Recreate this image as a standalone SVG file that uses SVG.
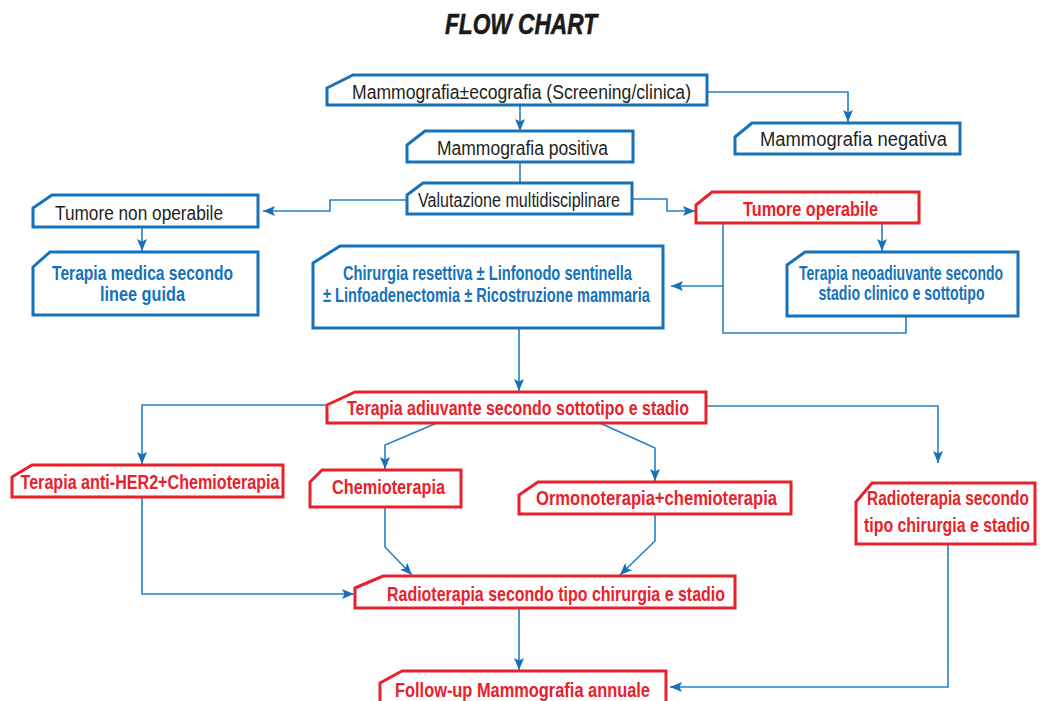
<svg xmlns="http://www.w3.org/2000/svg" width="1042" height="701" viewBox="0 0 1042 701">
<defs>
<marker id="ah" markerUnits="userSpaceOnUse" markerWidth="13" markerHeight="11" refX="12" refY="5.5" orient="auto">
<path d="M0,0.5 L12,5.5 L0,10.5 L2.5,5.5 Z" fill="#1870b8"/>
</marker>
<style>
.bb{fill:#fff;stroke:#1672b9;stroke-width:3}
.rb{fill:#fff;stroke:#e8212b;stroke-width:3}
.c{fill:none;stroke:#2382c6;stroke-width:1.6}
.ca{fill:none;stroke:#2382c6;stroke-width:1.6;marker-end:url(#ah)}
.t{font-family:"Liberation Sans",Arial,sans-serif;font-size:20px;fill:#231f20;text-anchor:middle}
.tb{font-family:"Liberation Sans",Arial,sans-serif;font-size:21px;font-weight:bold;fill:#1672b9;text-anchor:middle}
.tr{font-family:"Liberation Sans",Arial,sans-serif;font-size:21px;font-weight:bold;fill:#e8212b;text-anchor:middle}
</style>
</defs>
<rect width="1042" height="701" fill="#fff"/>
<text x="521" y="34" textLength="152" lengthAdjust="spacingAndGlyphs" style="font-family:'Liberation Sans',Arial,sans-serif;font-size:29px;font-weight:900;font-style:italic;fill:#1a1a1a;text-anchor:middle;stroke:#1a1a1a;stroke-width:0.6">FLOW CHART</text>

<g id="connectors">
<path class="ca" d="M520,105 V131"/>
<path class="ca" d="M707,92 H848 V122"/>
<path class="c" d="M520,162 V183"/>
<path class="ca" d="M407,200 H330 V211 H263"/>
<path class="ca" d="M632,199 H667 V211 H695"/>
<path class="ca" d="M142,227 V251"/>
<path class="ca" d="M882,223 V251"/>
<path class="c" d="M723,223 V333 H906 V316"/>
<path class="ca" d="M723,286 H671"/>
<path class="ca" d="M519,328 V391"/>
<path class="ca" d="M327,405 H142 V464"/>
<path class="ca" d="M437,423 L385,445 V469"/>
<path class="ca" d="M600,423 L655,448 V481"/>
<path class="ca" d="M706,406 H938 V463"/>
<path class="ca" d="M142,497 V594 H354"/>
<path class="ca" d="M385,507 V547 L412,575"/>
<path class="ca" d="M655,514 V541 L620,575"/>
<path class="ca" d="M519,608 V670"/>
<path class="ca" d="M948,544 V687 H670"/>
</g>

<g id="n-mammo-eco">
<path class="bb" d="M327,88 L353,75 H707 V105 H327 Z"/>
<text class="t" x="521.5" y="99" textLength="339" lengthAdjust="spacingAndGlyphs">Mammografia±ecografia (Screening/clinica)</text>
</g>
<g id="n-mammo-pos">
<path class="bb" d="M407,145 L425,131 H633 V162 H407 Z"/>
<text class="t" x="522.5" y="155" textLength="171" lengthAdjust="spacingAndGlyphs">Mammografia positiva</text>
</g>
<g id="n-mammo-neg">
<path class="bb" d="M735,137 L752,123 H960 V154 H735 Z"/>
<text class="t" x="853.5" y="146" textLength="187" lengthAdjust="spacingAndGlyphs">Mammografia negativa</text>
</g>
<g id="n-valutazione">
<path class="bb" d="M407,195 L423,183 H632 V214 H407 Z"/>
<text class="t" x="519" y="207" font-size="18" textLength="202" lengthAdjust="spacingAndGlyphs">Valutazione multidisciplinare</text>
</g>
<g id="n-non-operabile">
<path class="bb" d="M33,208 L52,195 H258 V227 H33 Z"/>
<text class="t" x="139" y="220" textLength="168" lengthAdjust="spacingAndGlyphs">Tumore non operabile</text>
</g>
<g id="n-terapia-medica">
<path class="bb" d="M33,267 L50,252 H258 V315 H33 Z"/>
<text class="tb" x="142.5" y="280" font-size="20" textLength="181" lengthAdjust="spacingAndGlyphs">Terapia medica secondo</text>
<text class="tb" x="142.5" y="301" font-size="20" textLength="85" lengthAdjust="spacingAndGlyphs">linee guida</text>
</g>
<g id="n-operabile">
<path class="rb" d="M696,205 L712,192 H919 V223 H696 Z"/>
<text class="tr" x="810.5" y="216" textLength="135" lengthAdjust="spacingAndGlyphs">Tumore operabile</text>
</g>
<g id="n-neoadiuvante">
<path class="bb" d="M787,265 L805,252 H1018 V316 H787 Z"/>
<text class="tb" x="901" y="280" font-size="18" textLength="204" lengthAdjust="spacingAndGlyphs">Terapia neoadiuvante secondo</text>
<text class="tb" x="901.5" y="300" font-size="18" textLength="166" lengthAdjust="spacingAndGlyphs">stadio clinico e sottotipo</text>
</g>
<g id="n-chirurgia">
<path class="bb" d="M313,263 L340,246 H663 V328 H313 Z"/>
<text class="tb" x="487.5" y="280" font-size="19" textLength="289" lengthAdjust="spacingAndGlyphs">Chirurgia resettiva ± Linfonodo sentinella</text>
<text class="tb" x="486.5" y="302" font-size="19" textLength="327" lengthAdjust="spacingAndGlyphs">± Linfoadenectomia ± Ricostruzione mammaria</text>
</g>
<g id="n-adiuvante">
<path class="rb" d="M327,405 L355,392 H706 V423 H327 Z"/>
<text class="tr" x="518" y="415" font-size="20" textLength="342" lengthAdjust="spacingAndGlyphs">Terapia adiuvante secondo sottotipo e stadio</text>
</g>
<g id="n-her2">
<path class="rb" d="M12,477 L32,465 H283 V497 H12 Z"/>
<text class="tr" x="150" y="489" font-size="20" textLength="259" lengthAdjust="spacingAndGlyphs">Terapia anti-HER2+Chemioterapia</text>
</g>
<g id="n-chemio">
<path class="rb" d="M310,482 L322,470 H461 V507 H310 Z"/>
<text class="tr" x="388.5" y="494" font-size="20" textLength="113" lengthAdjust="spacingAndGlyphs">Chemioterapia</text>
</g>
<g id="n-ormono">
<path class="rb" d="M519,495 L538,482 H791 V514 H519 Z"/>
<text class="tr" x="656.5" y="505" font-size="20" textLength="241" lengthAdjust="spacingAndGlyphs">Ormonoterapia+chemioterapia</text>
</g>
<g id="n-radio-dx">
<path class="rb" d="M856,502 L872,483 H1035 V544 H856 Z"/>
<text class="tr" x="948" y="505" font-size="20" textLength="162" lengthAdjust="spacingAndGlyphs">Radioterapia secondo</text>
<text class="tr" x="947" y="532" font-size="20" textLength="166" lengthAdjust="spacingAndGlyphs">tipo chirurgia e stadio</text>
</g>
<g id="n-radio">
<path class="rb" d="M355,588 L383,576 H735 V608 H355 Z"/>
<text class="tr" x="556" y="601" font-size="20" textLength="338" lengthAdjust="spacingAndGlyphs">Radioterapia secondo tipo chirurgia e stadio</text>
</g>
<g id="n-followup">
<path class="rb" d="M380,683 L402,671 H666 V712 H380 Z"/>
<text class="tr" x="522.5" y="697" font-size="20" textLength="255" lengthAdjust="spacingAndGlyphs">Follow-up Mammografia annuale</text>
</g>
</svg>
